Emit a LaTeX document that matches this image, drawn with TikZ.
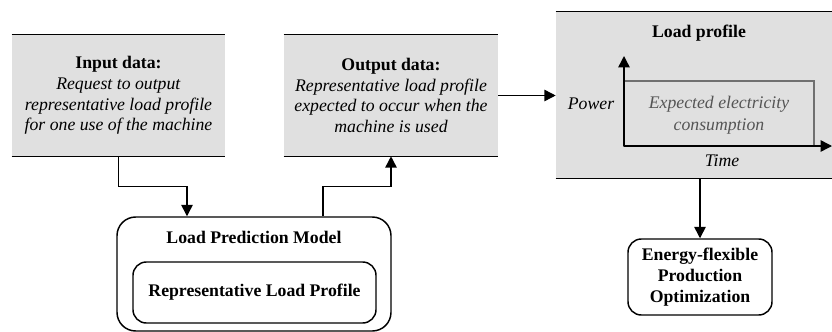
\documentclass[tikz,border=0pt]{standalone}
\usepackage{fontspec}
\setmainfont{Liberation Serif}
\usetikzlibrary{arrows.meta,calc}

\definecolor{panelgray}{HTML}{E0E0E0}
\definecolor{curvegray}{HTML}{707070}
\definecolor{notegray}{HTML}{555555}

\tikzset{
  every node/.style={font=\fontsize{13.3}{15.5}\selectfont},
  panel/.style={fill=panelgray, draw=none, inner sep=0pt, align=center},
  rulefine/.style={line width=1.1pt},
  modelbox/.style={draw, line width=1.1pt, rounded corners=14pt, inner sep=0pt, align=center},
  subbox/.style={draw, line width=1.1pt, rounded corners=10pt, inner sep=0pt, align=center},
  arr/.style={line width=1.1pt, -{Triangle[length=8.5pt,width=8.5pt]}},
}

\begin{document}
\begin{tikzpicture}[x=0.75pt, y=-0.75pt]
\useasboundingbox (0,0) rectangle (832,332);

% data panels
\node[panel, minimum width=159.75pt, minimum height=90.75pt] (input) at (118.5,95.5)
  {\textbf{Input data:}\\ \textit{Request to output}\\ \textit{representative load profile}\\ \textit{for one use of the machine}};
\node[panel, minimum width=160.5pt, minimum height=90.75pt] (output) at (391,95.5)
  {\textbf{Output data:}\\ \textit{Representative load profile}\\ \textit{expected to occur when the}\\ \textit{machine is used}};
\node[panel, minimum width=207pt, minimum height=124.5pt] (lp) at (694,95) {};

\foreach \n in {input,output,lp}{
  \draw[rulefine] (\n.north west) -- (\n.north east);
  \draw[rulefine] (\n.south west) -- (\n.south east);
}

% load profile sketch
\node[font=\fontsize{13.3}{15.5}\selectfont\bfseries] (lptitle) at (699,33) {Load profile};
\coordinate (origin) at (624,146);
\draw[curvegray, line width=1pt] (origin) rectangle (814,81);
\draw[arr] (origin) -- (624,56);
\draw[arr] (origin) -- (832,146);
\node[font=\fontsize{13.3}{15.5}\selectfont\itshape] (power) at (591,104) {Power};
\node[font=\fontsize{13.3}{15.5}\selectfont\itshape] (time) at (722,161) {Time};
\node[font=\fontsize{13.3}{16.5}\selectfont\itshape, text=notegray, align=center] (consumption) at (719,115)
  {Expected electricity\\consumption};

% model
\node[modelbox, minimum width=205.5pt, minimum height=85.5pt] (model) at (254,274) {};
\node[font=\fontsize{13.3}{15.5}\selectfont\bfseries] (modeltitle) at (254,237) {Load Prediction Model};
\node[subbox, minimum width=182.25pt, minimum height=45.75pt] (rlp) at (254.5,292.5)
  {\textbf{Representative Load Profile}};

% optimization
\node[subbox, minimum width=108pt, minimum height=57pt] (opt) at (700,277)
  {\textbf{Energy-flexible}\\ \textbf{Production}\\ \textbf{Optimization}};

% connectors
\draw[arr] (input.south) -- ++(0,30) -| ($(model.north)+(-67,0)$);
\draw[arr] ($(model.north)+(69,0)$) |- ($(output.south)+(0,30)$) -- (output.south);
\draw[arr] (output.east) -- (lp.west |- output.east);
\draw[arr] (lp.south -| opt.north) -- (opt.north);
\end{tikzpicture}
\end{document}
